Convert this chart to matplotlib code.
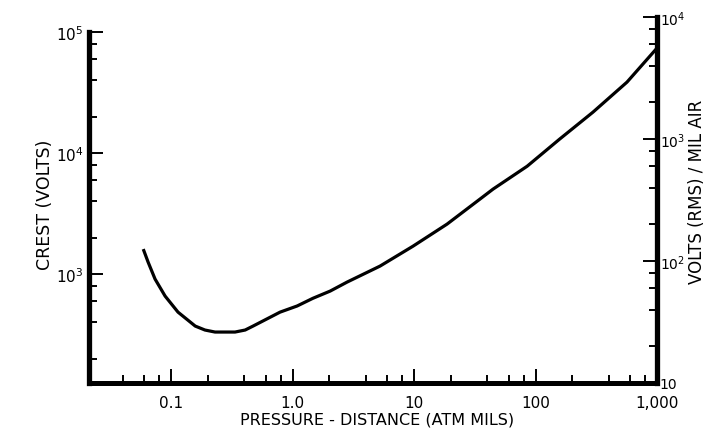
import numpy as np
import matplotlib
matplotlib.use("Agg")
import matplotlib.pyplot as plt
from matplotlib.ticker import LogLocator, FixedLocator, FixedFormatter, NullFormatter

# pressure-distance (atm mils) vs crest breakdown volts
pd_atm_mils = [0.059, 0.0647, 0.0738, 0.0893, 0.114, 0.158, 0.19, 0.230, 0.336,
               0.407, 0.473, 0.789, 1.09, 1.47, 2.04, 2.81, 5.25, 9.82, 18.7,
               34.9, 44.7, 85.3, 158, 297, 566, 1000]
crest_volts = [1610, 1256, 910, 658, 485, 372, 345, 332, 332,
               345, 372, 485, 545, 631, 724, 859, 1165, 1703, 2590,
               4170, 5040, 7790, 13060, 21800, 38600, 73800]

x_ticks = [0.1, 1, 10, 100, 1000]
x_labels = ["0.1", "1.0", "10", "100", "1,000"]
left_ticks = [1e3, 1e4, 1e5]
left_labels = [r"$\mathregular{10^3}$", r"$\mathregular{10^4}$", r"$\mathregular{10^5}$"]
right_ticks = [10, 1e2, 1e3, 1e4]
right_labels = ["10", r"$\mathregular{10^2}$", r"$\mathregular{10^3}$", r"$\mathregular{10^4}$"]

plt.rcParams['font.family'] = ['DejaVu Sans']
fig = plt.figure(figsize=(7.07, 4.31), dpi=100)
ax = fig.add_axes([89/707, 1-384/431, (657-89)/707, (384-18)/431])

ax.plot(pd_atm_mils, crest_volts, color="black", lw=2.3,
        solid_joinstyle="round", solid_capstyle="butt")

ax.set_xscale("log")
ax.set_yscale("log")
ax.set_xlim(0.0211, 1000)
ax.set_ylim(10**2.1, 10**5.125)

ax.spines["top"].set_visible(False)
ax.spines["right"].set_visible(False)
ax.spines["left"].set_linewidth(3.8)
ax.spines["bottom"].set_linewidth(3.6)
ax.spines["left"].set_bounds(10**2.1, 1e5)
ax.spines["left"].set_capstyle("projecting")
ax.spines["bottom"].set_capstyle("projecting")

ax.xaxis.set_major_locator(FixedLocator(x_ticks))
ax.xaxis.set_major_formatter(FixedFormatter(x_labels))
ax.xaxis.set_minor_locator(LogLocator(base=10, subs=(2, 4, 6, 8)))
ax.xaxis.set_minor_formatter(NullFormatter())
ax.yaxis.set_major_locator(FixedLocator(left_ticks))
ax.yaxis.set_major_formatter(FixedFormatter(left_labels))
ax.yaxis.set_minor_locator(LogLocator(base=10, subs=(2, 4, 6, 8)))
ax.yaxis.set_minor_formatter(NullFormatter())

ax.tick_params(axis="both", which="major", direction="in", length=10, width=1.4,
               labelsize=11)
ax.tick_params(axis="both", which="minor", direction="in", length=6, width=1.4)
ax.tick_params(axis="x", which="major", pad=9)
ax.tick_params(axis="y", which="major", pad=4)

ax.set_xlabel("PRESSURE - DISTANCE (ATM MILS)", fontsize=11.5)
ax.xaxis.set_label_coords(0.508, -0.078)
ax.set_ylabel("CREST (VOLTS)", fontsize=12.5)
ax.yaxis.set_label_coords(-0.062, 0.49)

ax2 = ax.twinx()
ax2.set_yscale("log")
ax2.set_ylim(10, 1e4)
for s in ["top", "left", "bottom"]:
    ax2.spines[s].set_visible(False)
ax2.spines["right"].set_linewidth(3.8)
ax2.spines["right"].set_capstyle("projecting")
ax2.yaxis.set_major_locator(FixedLocator(right_ticks))
ax2.yaxis.set_major_formatter(FixedFormatter(right_labels))
ax2.yaxis.set_minor_locator(LogLocator(base=10, subs=(2, 4, 6, 8)))
ax2.yaxis.set_minor_formatter(NullFormatter())
ax2.tick_params(axis="y", which="major", direction="in", length=10, width=1.4,
                labelsize=10, pad=2)
ax2.tick_params(axis="y", which="minor", direction="in", length=6, width=1.4)
ax2.set_ylabel("VOLTS (RMS) / MIL AIR", fontsize=12)
ax2.yaxis.set_label_coords(1.055, 0.525)

fig.savefig("out.png", dpi=100)
